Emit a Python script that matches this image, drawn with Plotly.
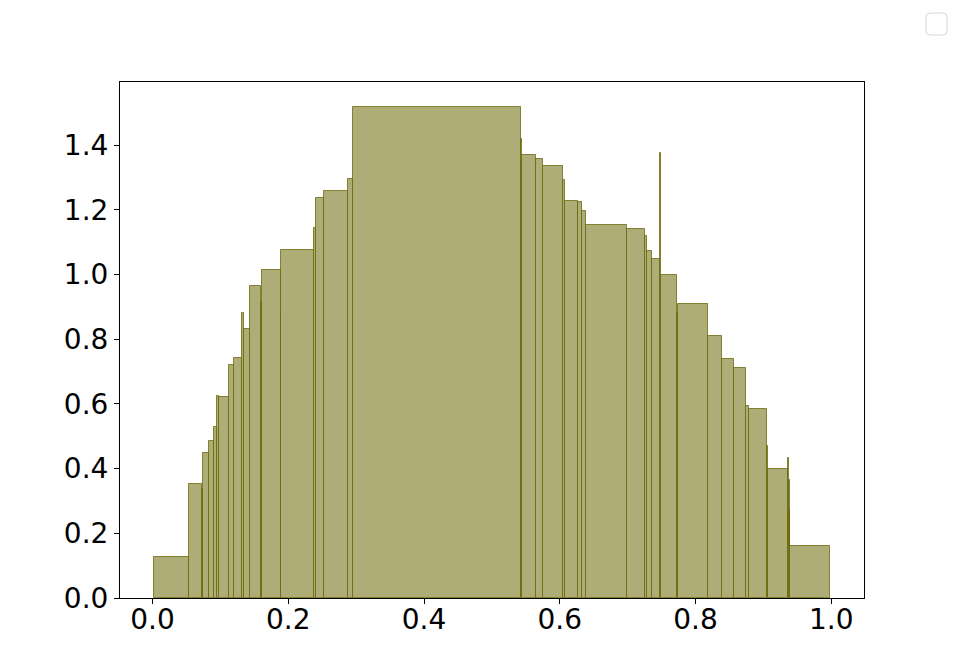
import numpy as np
import plotly.graph_objects as go

# bin edges and density heights
bin_edges = [0.0019, 0.0539, 0.0730, 0.0746, 0.0834, 0.0908, 0.0952, 0.0975, 0.1128, 0.1202,
             0.1320, 0.1345, 0.1438, 0.1600, 0.1610, 0.1890, 0.1896, 0.2380, 0.2409, 0.2527,
             0.2881, 0.2954, 0.5429, 0.5449, 0.5655, 0.5753, 0.6053, 0.6082, 0.6274, 0.6333,
             0.6392, 0.6996, 0.7261, 0.7290, 0.7364, 0.7476, 0.7486, 0.7732, 0.7742, 0.8183,
             0.8389, 0.8566, 0.8748, 0.8787, 0.9057, 0.9072, 0.9361, 0.9381, 0.9390, 0.9400,
             0.9985]
density = [0.126, 0.352, 0.338, 0.447, 0.486, 0.530, 0.625, 0.621, 0.721, 0.742,
           0.882, 0.832, 0.965, 0.914, 1.014, 0.888, 1.075, 1.144, 1.235, 1.258,
           1.294, 1.519, 1.418, 1.368, 1.356, 1.334, 1.291, 1.226, 1.223, 1.196,
           1.154, 1.140, 1.118, 1.072, 1.047, 1.376, 0.998, 0.881, 0.909, 0.810,
           0.739, 0.711, 0.594, 0.585, 0.470, 0.400, 0.434, 0.364, 0.271, 0.161]

x_ticks = [0.0, 0.2, 0.4, 0.6, 0.8, 1.0]
y_ticks = [0.0, 0.2, 0.4, 0.6, 0.8, 1.0, 1.2, 1.4]

edges = np.array(bin_edges)
widths = np.diff(edges)

fig = go.Figure(go.Bar(
    x=edges[:-1], y=density, width=widths, offset=0,
    marker=dict(color='#afad77', line=dict(color='rgba(100,100,0,0.75)', width=1)),
    showlegend=False,
))

# plot area in page pixels (page body adds an 8px margin)
L, R, T, B = 120, 864, 82, 598
W, H = 960, 672
OFF = 8

def px2paper(x, y):
    return (x - L) / (R - L), (B - y) / (B - T)

# empty legend frame in the top-right corner
x0, y0 = px2paper(926, 35)
x1, y1 = px2paper(947, 13)
rx = 4 / (R - L)
ry = 4 / (B - T)
path = (f"M {x0+rx},{y0} L {x1-rx},{y0} Q {x1},{y0} {x1},{y0+ry} "
        f"L {x1},{y1-ry} Q {x1},{y1} {x1-rx},{y1} L {x0+rx},{y1} "
        f"Q {x0},{y1} {x0},{y1-ry} L {x0},{y0+ry} Q {x0},{y0} {x0+rx},{y0} Z")
fig.add_shape(type='path', path=path, xref='paper', yref='paper',
              line=dict(color='#d6d6d6', width=1), fillcolor='rgba(255,255,255,0.8)')

lo, hi = edges[0], edges[-1]
pad = 0.05 * (hi - lo)

fig.update_layout(
    width=W, height=H,
    paper_bgcolor='white', plot_bgcolor='white',
    font=dict(family='DejaVu Sans', size=28, color='black'),
    margin=dict(l=L - OFF, r=W - R + OFF, t=T - OFF, b=H - B + OFF, pad=0),
    bargap=0,
    xaxis=dict(range=[lo - pad, hi + pad], tickvals=x_ticks, tickformat='.1f',
               showgrid=False, zeroline=False, showline=True, mirror=True,
               linecolor='black', linewidth=1, ticks='outside', ticklen=5,
               tickcolor='black', ticklabelstandoff=-9),
    yaxis=dict(range=[0, max(density) * 1.05], tickvals=y_ticks, tickformat='.1f',
               showgrid=False, zeroline=False, showline=True, mirror=True,
               linecolor='black', linewidth=1, ticks='outside', ticklen=5,
               tickcolor='black'),
)

fig.write_html("out.html")
